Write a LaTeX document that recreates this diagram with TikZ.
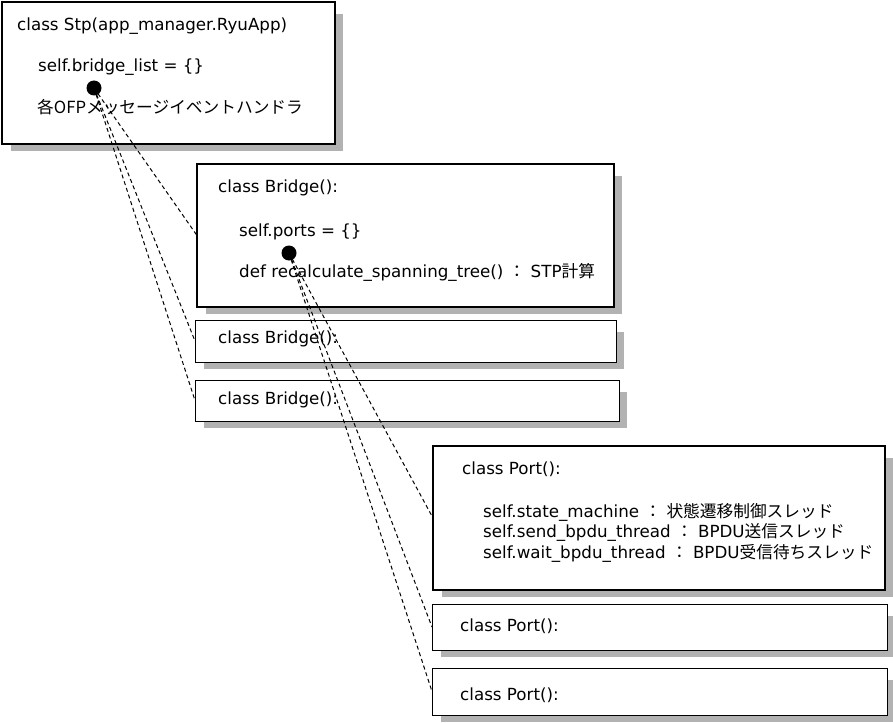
\documentclass[tikz,border=0pt]{standalone}
\usepackage{fontspec}
\setmainfont{DejaVu Sans}
\newfontfamily\jp{Noto Sans CJK JP}
\usepackage{tikz}
\usetikzlibrary{backgrounds}

\begin{document}
\begin{tikzpicture}[x=1pt,y=-1pt]
\tikzset{box/.style={draw,fill=white,line width=1pt,anchor=north west,inner sep=0pt,outer sep=0pt}}
\tikzset{bigbox/.style={box,line width=2pt}}
\tikzset{txt/.style={anchor=base west,inner sep=0pt,font=\fontsize{16.7}{20.5}\selectfont}}
\tikzset{link/.style={dash pattern=on 4pt off 3pt,line width=1pt}}
\tikzset{dot/.style={circle,fill,inner sep=0pt,minimum size=15pt}}

\useasboundingbox (0,0) rectangle (893,722);

% boxes
\node[bigbox,minimum width=333pt,minimum height=142pt] (stp) at (2,2) {};
\node[bigbox,minimum width=417pt,minimum height=143pt] (br1) at (197,164) {};
\node[box,minimum width=421pt,minimum height=42pt] (br2) at (195,320) {};
\node[box,minimum width=424pt,minimum height=41pt] (br3) at (195,380) {};
\node[bigbox,minimum width=452pt,minimum height=144pt] (pt1) at (433,446) {};
\node[box,minimum width=455pt,minimum height=46pt] (pt2) at (432,604) {};
\node[box,minimum width=455pt,minimum height=47pt] (pt3) at (432,668) {};

\begin{scope}[on background layer]
\foreach \b in {stp,br1,br2,br3,pt1,pt2,pt3}
  \fill[black!30] ([xshift=9pt,yshift=-12pt]\b.north west) rectangle ([xshift=8pt,yshift=-7pt]\b.south east);
\end{scope}

% Stp
\node[txt] (stpname) at (17,31) {class Stp(app\_manager.RyuApp)};
\node[txt] (stplist) at (38,72) {self.bridge\_list = \{\}};
\node[txt] (stphdl) at (37,114) {\jp 各OFPメッセージイベントハンドラ};
\node[dot] (stpdot) at (94,88) {};

% Bridge
\node[txt] (br1name) at (218,193) {class Bridge():};
\node[txt] (br1ports) at (239,236) {self.ports = \{\}};
\node[txt] (br1calc) at (239,277) {def recalculate\_spanning\_tree() {\jp ：} STP{\jp 計算}};
\node[dot] (brdot) at (289,253) {};
\node[txt] (br2name) at (218,343) {class Bridge():};
\node[txt] (br3name) at (218,404) {class Bridge():};

% Port
\node[txt] (pt1name) at (462,474) {class Port():};
\node[txt] (pt1state) at (483,517) {self.state\_machine {\jp ：} {\jp 状態遷移制御スレッド}};
\node[txt] (pt1send) at (483,537) {self.send\_bpdu\_thread {\jp ：} BPDU{\jp 送信スレッド}};
\node[txt] (pt1wait) at (483,558) {self.wait\_bpdu\_thread {\jp ：} BPDU{\jp 受信待ちスレッド}};
\node[txt] (pt2name) at (460,631) {class Port():};
\node[txt] (pt3name) at (460,700) {class Port():};

\foreach \b in {br1,br2,br3}
  \draw[link] (stpdot.center) -- (\b.west);
\foreach \p in {pt1,pt2,pt3}
  \draw[link] (brdot.center) -- (\p.west);

\end{tikzpicture}
\end{document}
